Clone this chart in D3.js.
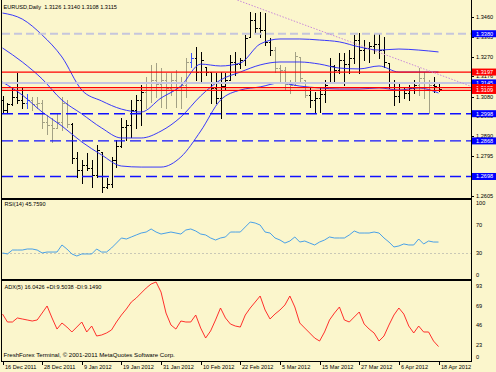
<!DOCTYPE html>
<html><head><meta charset="utf-8">
<script src="https://cdn.jsdelivr.net/npm/d3@7"></script>
<style>html,body{margin:0;padding:0;background:#fbf6cc;} svg{display:block;}</style>
</head><body><svg id="c" width="496" height="372"></svg>
<script>
// ---------------- DATA ----------------
const symbolTitle = "EURUSD,Daily  1.3126 1.3140 1.3108 1.3115";
const rsiTitle = "RSI(14) 45.7590";
const adxTitle = "ADX(5) 16.0426 +DI:9.5038 -DI:9.1490";
const copyright = "FreshForex Terminal, \u00A9 2001-2011 MetaQuotes Software Corp.";

const dateTickIndex = [0, 8, 16, 24, 32, 40, 48, 56, 64, 72, 80, 88];
const dateTickLabels = ["16 Dec 2011","28 Dec 2011","9 Jan 2012","19 Jan 2012","31 Jan 2012","10 Feb 2012","22 Feb 2012","5 Mar 2012","15 Mar 2012","27 Mar 2012","6 Apr 2012","18 Apr 2012"];

const priceTicks = ["1.3460","1.3365","1.3270","1.3176","1.3080","1.2985","1.2890","1.2795","1.2605"];
const rsiTicks = [100, 70, 30, 0];
const rsiLevels = [30];
const adxTicks = [93, 69.75, 46.5, 23.25, 0];
const adxTickLabels = ["93","69","46","23","0"];

const open = [1.3063,1.3016,1.3044,1.3078,1.3063,1.3049,1.3063,1.3044,1.3049,1.2958,
1.2944,1.2930,1.2958,1.3049,1.2949,1.2786,1.2729,1.2753,1.2739,1.2705,
1.2815,1.2648,1.2662,1.2777,1.2844,1.2934,1.2944,1.3016,1.3063,1.3102,
1.3149,1.3159,1.3140,1.3159,1.3121,1.3159,1.3111,1.3135,1.3245,1.3264,
1.3197,1.3221,1.3197,1.3121,1.3073,1.3130,1.3159,1.3245,1.3235,1.3255,
1.3364,1.3446,1.3407,1.3398,1.3341,1.3302,1.3216,1.3207,1.3140,1.3135,
1.3269,1.3159,1.3087,1.3063,1.3073,1.3092,1.3145,1.3226,1.3207,1.3255,
1.3235,1.3264,1.3350,1.3302,1.3312,1.3321,1.3331,1.3302,1.3240,1.3149,
1.3083,1.3111,1.3097,1.3121,1.3135,1.3169,1.3111,1.3135,1.3126];
const high = [1.3083,1.3049,1.3121,1.3192,1.3121,1.3092,1.3078,1.3078,1.3063,1.2992,
1.2977,1.3001,1.3078,1.3063,1.2954,1.2815,1.2777,1.2810,1.2777,1.2848,
1.2815,1.2691,1.2791,1.2872,1.2977,1.2968,1.3063,1.3087,1.3135,1.3173,
1.3231,1.3240,1.3216,1.3192,1.3192,1.3207,1.3173,1.3264,1.3288,1.3317,
1.3293,1.3221,1.3197,1.3192,1.3197,1.3192,1.3278,1.3293,1.3264,1.3374,
1.3484,1.3479,1.3484,1.3479,1.3360,1.3317,1.3231,1.3221,1.3159,1.3293,
1.3269,1.3159,1.3121,1.3102,1.3121,1.3159,1.3264,1.3231,1.3288,1.3288,
1.3302,1.3374,1.3384,1.3350,1.3341,1.3384,1.3384,1.3364,1.3240,1.3159,
1.3145,1.3121,1.3135,1.3159,1.3216,1.3197,1.3159,1.3173,1.3140];
const low = [1.3001,1.3001,1.3040,1.3049,1.3025,1.3025,1.3016,1.3025,1.2930,1.2901,
1.2863,1.2930,1.2920,1.2934,1.2762,1.2696,1.2667,1.2729,1.2648,1.2696,
1.2624,1.2643,1.2648,1.2743,1.2839,1.2872,1.2887,1.2930,1.2944,1.3025,
1.3054,1.3078,1.3030,1.3025,1.3087,1.3030,1.3025,1.3078,1.3221,1.3159,
1.3149,1.3183,1.3049,1.3049,1.2977,1.3111,1.3159,1.3183,1.3216,1.3231,
1.3364,1.3384,1.3364,1.3326,1.3278,1.3197,1.3145,1.3111,1.3097,1.3135,
1.3145,1.3078,1.3030,1.3006,1.3006,1.3054,1.3145,1.3149,1.3192,1.3135,
1.3192,1.3240,1.3192,1.3255,1.3245,1.3288,1.3264,1.3221,1.3121,1.3040,
1.3054,1.3073,1.3063,1.3097,1.3087,1.3073,1.3001,1.3102,1.3108];
const close = [1.3016,1.3044,1.3078,1.3063,1.3049,1.3063,1.3044,1.3049,1.2958,1.2944,
1.2930,1.2958,1.3049,1.2949,1.2786,1.2729,1.2753,1.2739,1.2705,1.2825,
1.2648,1.2662,1.2777,1.2844,1.2934,1.2944,1.3016,1.3063,1.3102,1.3149,
1.3159,1.3140,1.3159,1.3121,1.3159,1.3111,1.3135,1.3245,1.3264,1.3197,
1.3255,1.3197,1.3121,1.3073,1.3130,1.3159,1.3245,1.3235,1.3255,1.3360,
1.3446,1.3407,1.3398,1.3341,1.3302,1.3216,1.3207,1.3140,1.3135,1.3274,
1.3169,1.3087,1.3063,1.3073,1.3092,1.3135,1.3226,1.3207,1.3255,1.3235,
1.3264,1.3350,1.3302,1.3312,1.3321,1.3331,1.3302,1.3245,1.3149,1.3083,
1.3111,1.3097,1.3121,1.3135,1.3169,1.3111,1.3135,1.3130,1.3115];
// bar state category (d = trend, g = flat, b = signal)
const barState = ["d","d","d","d","d","b","g","g","g","g",
"g","g","g","g","d","d","d","d","d","d",
"d","d","d","d","d","d","d","d","d","g",
"g","g","g","g","g","g","g","g","b","d",
"d","d","d","d","d","d","d","d","d","d",
"d","d","d","d","d","g","g","g","g","g",
"g","g","d","d","d","d","d","d","d","d",
"d","d","d","d","d","d","d","d","d","d",
"d","d","d","d","g","g","g","d","d"];

// Bollinger bands, read every 4 bars
const bandIndex = [0,4,8,12,16,20,24,28,32,36,40,44,48,52,56,60,64,68,72,76,80,84,88];
const bandUpper = [1.3479,1.3450,1.3374,1.3269,1.3111,1.3059,1.3020,1.3006,1.3073,1.3130,1.3235,1.3226,1.3240,1.3331,1.3355,1.3355,1.3350,1.3341,1.3317,1.3302,1.3307,1.3302,1.3293];
const bandMiddle = [1.3312,1.3245,1.3164,1.3063,1.2997,1.2930,1.2882,1.2882,1.2915,1.2982,1.3083,1.3159,1.3197,1.3231,1.3245,1.3245,1.3235,1.3216,1.3212,1.3226,1.3197,1.3197,1.3197];
const bandLower = [1.3149,1.3087,1.3006,1.2939,1.2863,1.2801,1.2748,1.2743,1.2743,1.2791,1.2915,1.3063,1.3111,1.3126,1.3145,1.3130,1.3121,1.3116,1.3116,1.3121,1.3111,1.3121,1.3097];

// trend line anchors (bar index, price)
const trendIndex = [50, 88];
const trendPrice = [1.3518, 1.3186];

// horizontal levels
const levelPrice = [1.3380, 1.3197, 1.3145, 1.3123, 1.3109, 1.2998, 1.2868, 1.2698];
const levelKind  = ["target","resist","pivot","resist","resist","support","support","support"];

const rsi = [30.6,29.2,34.7,34.7,34.7,36.1,36.1,34.7,30.6,31.9,
31.9,31.9,41.7,36.1,29.2,26.4,29.2,29.2,29.2,36.1,
31.9,31.9,37.5,44.4,51.4,50.0,52.8,55.6,58.3,59.7,
63.9,59.7,56.9,58.3,59.7,58.3,56.9,62.5,63.9,61.1,
56.9,55.6,51.4,48.6,51.4,52.8,59.7,59.7,59.7,66.7,
73.6,72.2,69.4,59.7,58.3,51.4,48.6,44.4,47.2,52.8,
45.8,47.2,44.4,41.7,45.8,48.6,52.8,51.4,51.4,51.4,
55.6,61.1,58.3,58.3,58.3,59.7,58.3,51.4,45.8,38.9,
40.3,43.1,41.7,41.7,50.0,43.1,47.2,45.8,45.759];
const adx = [54.8,45.3,45.3,50.1,48.9,47.7,46.5,47.7,56.0,64.4,
50.1,36.9,44.1,39.3,33.4,39.3,45.3,33.4,40.5,28.6,
29.8,32.2,35.8,45.3,53.6,60.8,69.1,73.9,79.9,85.8,
90.6,93.0,81.0,56.0,41.7,36.9,46.5,45.3,45.3,53.6,
38.1,26.2,34.6,47.7,62.0,50.1,42.9,40.5,39.3,53.6,
62.0,69.1,76.3,59.6,48.9,54.8,59.6,65.6,76.3,63.2,
44.1,38.1,32.2,26.2,22.6,33.4,47.7,56.0,63.2,47.7,
45.3,51.3,57.2,42.9,36.9,32.2,22.6,28.6,41.7,53.6,
62.0,54.8,40.5,32.2,40.5,33.4,33.4,22.6,16.0426];

// ---------------- DRAW ----------------
const W = 496, H = 372, AX = 471;
const BG = "#fbf6cc";
const FONT = '"Liberation Sans", Arial, sans-serif';
const FS = 5.6;
const svg = d3.select("#c");
svg.append("rect").attr("width", W).attr("height", H).attr("fill", BG);

const x = d3.scaleLinear().domain([0, 88]).range([2.5, 438.5]);
const y = d3.scaleLinear().domain([1.2605, 1.3460]).range([195.95, 17]);
const yR = d3.scaleLinear().domain([0, 100]).range([275, 203]);
const yA = d3.scaleLinear().domain([0, 93]).range([360, 282]);

const defs = svg.append("defs");
function clip(id, x0, y0, w, h) {
  defs.append("clipPath").attr("id", id).append("rect").attr("x", x0).attr("y", y0).attr("width", w).attr("height", h);
}
clip("cMain", 2, 0, AX - 2, 197.5);
clip("cRsi", 2, 199.5, AX - 2, 79);
clip("cAdx", 2, 280.5, AX - 2, 80);

const main = svg.append("g").attr("clip-path", "url(#cMain)");
const bars = d3.range(open.length).map(i => ({i, o: open[i], h: high[i], l: low[i], c: close[i], s: barState[i]}));
const stateColor = {d: "#000000", g: "#a3a185", b: "#3a55ff"};
const px = i => Math.round(x(i)) + 0.5;
const bg = main.append("g").attr("shape-rendering", "crispEdges");
bars.forEach(b => {
  const cx = px(b.i), col = stateColor[b.s];
  bg.append("line").attr("x1", cx).attr("x2", cx).attr("y1", y(b.h)).attr("y2", y(b.l) + 1).attr("stroke", col);
  bg.append("line").attr("x1", cx - 2).attr("x2", cx).attr("y1", Math.round(y(b.o)) + 0.5).attr("y2", Math.round(y(b.o)) + 0.5).attr("stroke", col);
  bg.append("line").attr("x1", cx).attr("x2", cx + 2).attr("y1", Math.round(y(b.c)) + 0.5).attr("y2", Math.round(y(b.c)) + 0.5).attr("stroke", col);
});

// bands
const bandLine = d3.line().x(d => x(d.i)).y(d => y(d.v)).curve(d3.curveMonotoneX);
[bandUpper, bandMiddle, bandLower].forEach(arr => {
  main.append("path").datum(bandIndex.map((i, k) => ({i, v: arr[k]})))
    .attr("d", bandLine).attr("fill", "none").attr("stroke", "#2424ff").attr("stroke-width", 0.9);
});

// horizontal levels
const levelStyle = {
  target:  {stroke: "#c6c6dc", w: 2, dash: "8,4", box: "#0000ff"},
  support: {stroke: "#1010ff", w: 1.4, dash: "11,5", box: "#0000ff"},
  resist:  {stroke: "#ff0000", w: 1.3, dash: null, box: "#ff0000"},
  pivot:   {stroke: "#c6c6e2", w: 2, dash: null, box: "#0000ff"}
};
levelPrice.forEach((p, k) => {
  const st = levelStyle[levelKind[k]];
  main.append("line").attr("x1", 2).attr("x2", AX).attr("y1", y(p)).attr("y2", y(p))
    .attr("stroke", st.stroke).attr("stroke-width", st.w).attr("stroke-dasharray", st.dash);
});

// trend line
const tSlope = (trendPrice[1] - trendPrice[0]) / (trendIndex[1] - trendIndex[0]);
const tStart = 44, tEnd = 96;
main.append("line")
  .attr("x1", x(tStart)).attr("y1", y(trendPrice[0] + (tStart - trendIndex[0]) * tSlope))
  .attr("x2", x(tEnd)).attr("y2", y(trendPrice[0] + (tEnd - trendIndex[0]) * tSlope))
  .attr("stroke", "#c98ad8").attr("stroke-width", 1).attr("stroke-dasharray", "1.5,1.5");

// RSI panel
const rsiG = svg.append("g").attr("clip-path", "url(#cRsi)");
rsiLevels.forEach(v => rsiG.append("line").attr("x1", 2).attr("x2", AX).attr("y1", Math.round(yR(v)) + 0.5).attr("y2", Math.round(yR(v)) + 0.5)
  .attr("stroke", "#bdbdb0").attr("stroke-width", 0.8).attr("stroke-dasharray", "2,2"));
rsiG.append("path").datum(rsi).attr("d", d3.line().x((d, i) => x(i)).y(d => yR(d)))
  .attr("fill", "none").attr("stroke", "#3496ea").attr("stroke-width", 0.9);

// ADX panel
const adxG = svg.append("g").attr("clip-path", "url(#cAdx)");
adxG.append("path").datum(adx).attr("d", d3.line().x((d, i) => x(i)).y(d => yA(d)))
  .attr("fill", "none").attr("stroke", "#ff1a1a").attr("stroke-width", 0.9);

// frame
const frame = svg.append("g").attr("stroke", "#000").attr("shape-rendering", "crispEdges");
frame.append("line").attr("x1", 1.5).attr("x2", 1.5).attr("y1", 0).attr("y2", 362);
frame.append("line").attr("x1", AX + 0.5).attr("x2", AX + 0.5).attr("y1", 0).attr("y2", 362);
frame.append("rect").attr("x", 1).attr("y", 197.5).attr("width", AX).attr("height", 2).attr("fill", "#000").attr("stroke", "none");
frame.append("rect").attr("x", 1).attr("y", 278.5).attr("width", AX).attr("height", 2).attr("fill", "#000").attr("stroke", "none");
frame.append("line").attr("x1", 1).attr("x2", AX + 1).attr("y1", 361.5).attr("y2", 361.5);

// date axis
const tg = svg.append("g").attr("font-family", FONT).attr("font-size", FS).attr("fill", "#000");
dateTickIndex.forEach((i, k) => {
  const tx = Math.round(x(i)) + 0.5;
  frame.append("line").attr("x1", tx).attr("x2", tx).attr("y1", 362).attr("y2", 365);
  tg.append("text").attr("x", tx + 1.5).attr("y", 368.8).text(dateTickLabels[k]);
});

// price axis labels
priceTicks.forEach(t => {
  const ty = y(+t);
  frame.append("line").attr("x1", AX + 1).attr("x2", AX + 3).attr("y1", Math.round(ty) + 0.5).attr("y2", Math.round(ty) + 0.5);
  tg.append("text").attr("x", 476).attr("y", ty + 2).text(t);
});
// level boxes
levelPrice.forEach((p, k) => {
  const st = levelStyle[levelKind[k]];
  const ty = y(p);
  svg.append("rect").attr("x", 472).attr("y", ty - 3.5).attr("width", 24).attr("height", 7).attr("fill", st.box);
  svg.append("text").attr("x", 476).attr("y", ty + 2).attr("font-family", FONT).attr("font-size", FS)
    .attr("fill", "#fff").text(p.toFixed(4));
});

// RSI labels
rsiTicks.forEach(v => {
  tg.append("text").attr("x", 476).attr("y", yR(v) + 2).text(v);
});
// ADX labels
adxTicks.forEach((v, k) => {
  const ty = Math.max(285, Math.min(357, yA(v) + 4));
  tg.append("text").attr("x", 476).attr("y", ty + 2).text(adxTickLabels[k]);
});

// titles
tg.append("text").attr("x", 3.5).attr("y", 8.7).style("white-space", "pre").text(symbolTitle);
tg.append("text").attr("x", 4.5).attr("y", 206).text(rsiTitle);
tg.append("text").attr("x", 4.5).attr("y", 289).text(adxTitle);
tg.append("text").attr("x", 3.5).attr("y", 357).attr("font-size", 6.1).text(copyright);
</script></body></html>
